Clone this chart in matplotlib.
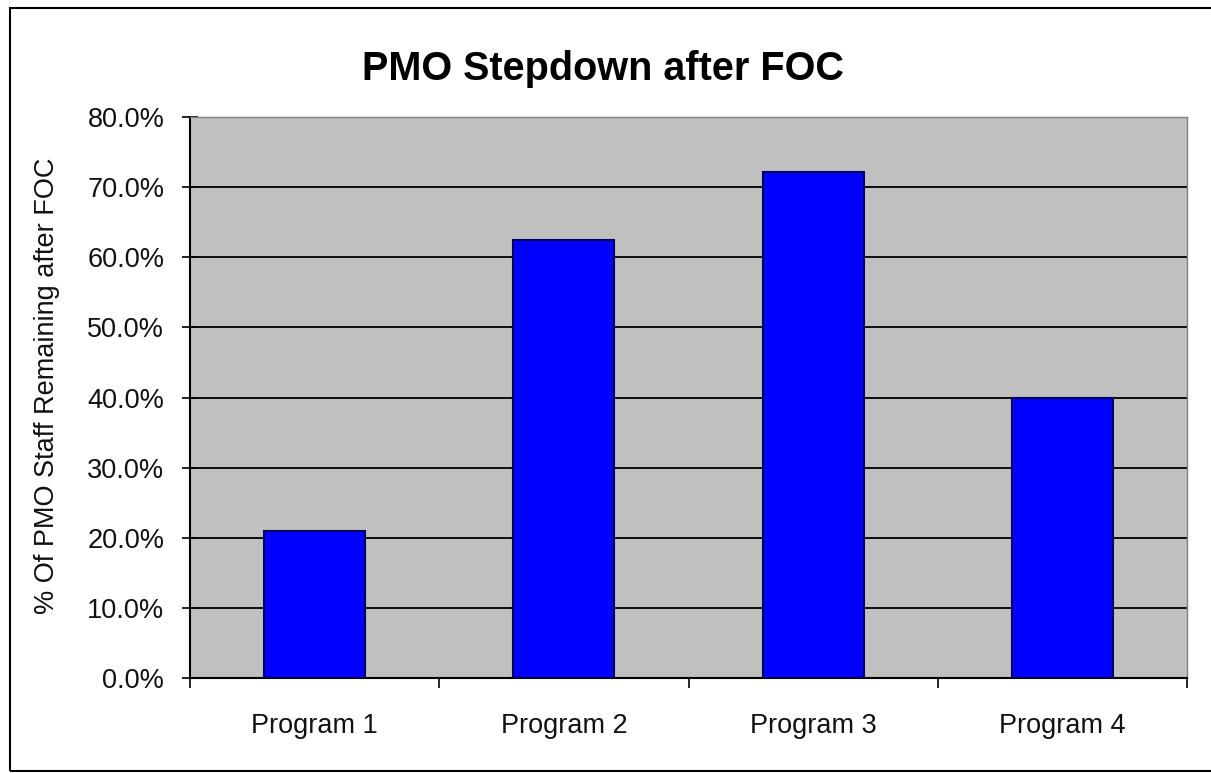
import matplotlib
matplotlib.use("Agg")
import matplotlib.pyplot as plt
import matplotlib.ticker as tick
from matplotlib.patches import Rectangle

# chart data
programs = ["Program 1", "Program 2", "Program 3", "Program 4"]
staff_remaining = [21.0, 62.5, 72.2, 40.0]  # % of PMO staff remaining after FOC
y_ticks = [0, 10, 20, 30, 40, 50, 60, 70, 80]

plt.rcParams["font.family"] = ["Liberation Sans", "DejaVu Sans"]

fig = plt.figure(figsize=(12.11, 7.73), dpi=100)
fig.patch.set_facecolor("white")

# outer chart border (right side runs past the picture edge)
fig.patches.append(Rectangle((10 / 1211, 1 - 771 / 773), 1.2, (771 - 8) / 773,
                             transform=fig.transFigure, fill=False,
                             edgecolor="black", linewidth=1.5, zorder=0))

ax = fig.add_axes([190 / 1211, 1 - 678 / 773, (1187 - 190) / 1211, (678 - 117) / 773])
ax.set_facecolor("#C0C0C0")

x = list(range(len(programs)))
ax.bar(x, staff_remaining, width=0.405, color="#0000FF", edgecolor="#000060",
       linewidth=1.5, zorder=3)

ax.set_xlim(-0.5, len(programs) - 0.5)
ax.set_ylim(0, 80)

# y axis
ax.set_yticks(y_ticks)
ax.yaxis.set_major_formatter(tick.PercentFormatter(xmax=100, decimals=1))
ax.tick_params(axis="y", direction="inout", length=11, width=1.2, pad=13,
               labelsize=19.5, colors="black", labelcolor="#111111")
ax.grid(axis="y", color="black", linewidth=1.3, zorder=1)
ax.set_axisbelow(True)

# x axis: labels at centers, tick marks at category boundaries
ax.set_xticks(x)
ax.set_xticklabels(programs)
ax.tick_params(axis="x", which="major", length=0, pad=25, labelsize=19.5,
               labelcolor="#111111")
ax.set_xticks([i - 0.5 for i in range(len(programs) + 1)], minor=True)
ax.tick_params(axis="x", which="minor", direction="out", length=7.5, width=1.2)

for side in ["left", "bottom"]:
    ax.spines[side].set_color("black")
    ax.spines[side].set_linewidth(1.5)
for side in ["top", "right"]:
    ax.spines[side].set_color("#808080")
    ax.spines[side].set_linewidth(1.0)

fig.text(603 / 1211, 1 - 80 / 773, "PMO Stepdown after FOC", ha="center",
         va="baseline", fontsize=28.5, fontweight="bold", color="black")
fig.text(47 / 1211, 1 - 386 / 773, "% Of PMO Staff Remaining after FOC",
         rotation=90, ha="center", va="center", fontsize=19.5, color="#111111")

fig.savefig("out.png", dpi=100, facecolor="white")
